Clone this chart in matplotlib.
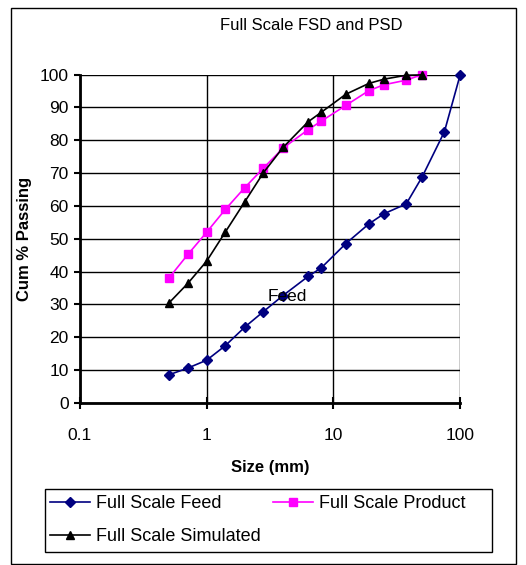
import matplotlib.pyplot as plt
from matplotlib.patches import Rectangle

plt.rcParams['font.family'] = ['Liberation Sans', 'DejaVu Sans']

# sieve sizes (mm)
sizes = [0.5, 0.71, 1, 1.4, 2, 2.8, 4, 6.3, 8, 12.5, 19, 25, 37.5, 50, 75, 100]

feed = [8.5, 10.6, 13.0, 17.4, 23.1, 27.8, 32.7, 38.5, 41.1, 48.5, 54.5, 57.6, 60.6, 68.8, 82.6, 100.0]
product = [37.9, 45.2, 52.0, 58.9, 65.6, 71.5, 77.6, 83.2, 85.8, 90.6, 95.1, 96.9, 98.3, 100.0]
simulated = [30.3, 36.4, 43.2, 52.0, 61.3, 70.1, 77.8, 85.6, 88.5, 94.0, 97.3, 98.6, 99.8, 99.9]

W, H = 526, 565
fig = plt.figure(figsize=(W / 100, H / 100), dpi=100)
ax = fig.add_axes([0.152, 0.287, 0.723, 0.581])

# outer chart frame and legend box
fig.patches.append(Rectangle((11 / W, 1 - 564 / H), 505 / W, 556 / H,
                             transform=fig.transFigure, fill=False,
                             edgecolor='black', linewidth=1))
fig.patches.append(Rectangle((45 / W, 1 - 552 / H), 447 / W, 63 / H,
                             transform=fig.transFigure, fill=False,
                             edgecolor='black', linewidth=1))

l1, = ax.plot(sizes, feed, color='#000080', marker='D', markersize=5.5, linewidth=1.2,
              label='Full Scale Feed', clip_on=False)
l2, = ax.plot(sizes[:len(product)], product, color='#FF00FF', marker='s', markersize=6,
              linewidth=1.2, label='Full Scale Product', clip_on=False)
l3, = ax.plot(sizes[:len(simulated)], simulated, color='black', marker='^', markersize=6,
              linewidth=1.2, label='Full Scale Simulated', clip_on=False)

ax.set_xscale('log')
ax.set_xlim(0.1, 100)
ax.set_ylim(0, 100)
ax.set_yticks(range(0, 101, 10))
ax.set_xticks([0.1, 1, 10, 100])
ax.set_xticklabels(['0.1', '1', '10', '100'])
ax.minorticks_off()
ax.tick_params(labelsize=12.5, length=4, width=1.5, direction='out', pad=4)
ax.tick_params(axis='x', direction='inout', length=8, pad=14)

ax.grid(True, color='black', linewidth=1)
ax.set_axisbelow(True)
for s in ['top', 'right']:
    ax.spines[s].set_visible(False)
for s in ['left', 'bottom']:
    ax.spines[s].set_linewidth(2)

ax.text(3.0, 32.3, 'Feed', fontsize=12.5, va='center', ha='left')

ax.set_xlabel('Size (mm)', fontsize=12, fontweight='bold', labelpad=12)
ax.set_ylabel('Cum % Passing', fontsize=12, fontweight='bold', labelpad=6)
fig.text(0.592, 1 - 25 / H, 'Full Scale FSD and PSD', fontsize=12,
         ha='center', va='center')

# column-major order so the rows read Feed, Product / Simulated
fig.legend([l1, l3, l2], [l1.get_label(), l3.get_label(), l2.get_label()],
           loc='upper left', bbox_to_anchor=(50 / W, 1 - 495 / H),
           ncol=2, fontsize=13, frameon=False, handlelength=2.2,
           handletextpad=0.35, borderaxespad=0, borderpad=0,
           labelspacing=0.88, columnspacing=0.7)

fig.savefig('out.png', dpi=100)
